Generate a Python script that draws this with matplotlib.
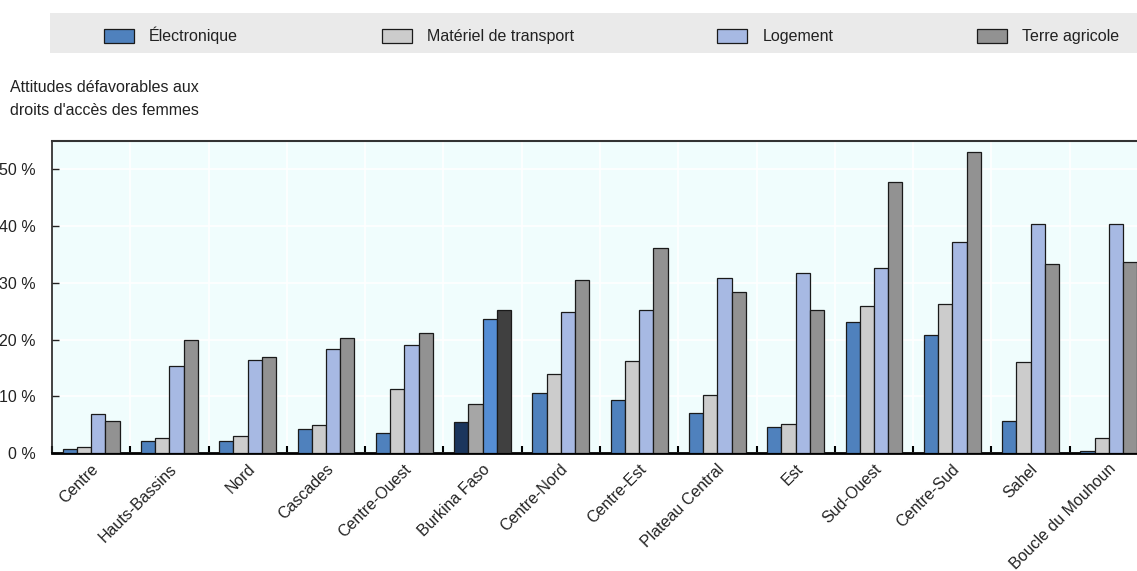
import matplotlib
matplotlib.use("Agg")
import matplotlib.pyplot as plt
import matplotlib.transforms as mtransforms
from matplotlib.patches import Rectangle
import numpy as np

plt.rcParams['font.family'] = ['Liberation Sans', 'DejaVu Sans']

regions = ["Centre", "Hauts-Bassins", "Nord", "Cascades", "Centre-Ouest",
           "Burkina Faso", "Centre-Nord", "Centre-Est", "Plateau Central",
           "Est", "Sud-Ouest", "Centre-Sud", "Sahel", "Boucle du Mouhoun"]

series_names = ["Électronique", "Matériel de transport", "Logement", "Terre agricole"]

electronique = [0.65, 2.2, 2.05, 4.2, 3.6, 5.5, 10.5, 9.4, 7.0, 4.6, 23.1, 20.8, 5.6, 0.3]
transport    = [1.1, 2.6, 3.0, 4.9, 11.3, 8.6, 13.9, 16.2, 10.2, 5.2, 25.9, 26.2, 16.1, 2.7]
logement     = [6.9, 15.3, 16.4, 18.4, 19.1, 23.7, 24.9, 25.2, 30.8, 31.7, 32.6, 37.2, 40.3, 40.4]
terre        = [5.6, 20.0, 17.0, 20.2, 21.2, 25.2, 30.5, 36.2, 28.3, 25.2, 47.7, 53.1, 33.4, 33.7]

yticks = [0, 10, 20, 30, 40, 50]
ytick_labels = ["0 %", "10 %", "20 %", "30 %", "40 %", "50 %"]

colors = ["#4F81BD", "#CCCCCC", "#A7B9E3", "#929292"]
highlight_colors = ["#1B365D", "#A6A6A6", "#558ED5", "#404040"]
highlight = "Burkina Faso"

W, H = 1137, 571
fig = plt.figure(figsize=(W / 100, H / 100), dpi=100)
fig.patch.set_facecolor("white")

ax = fig.add_axes([52 / W, 1 - 453 / H, 1096 / W, 312 / H])
ax.set_facecolor("#F0FDFD")

x = np.arange(len(regions))
bw = 0.182
values = [electronique, transport, logement, terre]
hi = regions.index(highlight)
for k, (name, vals) in enumerate(zip(series_names, values)):
    cols = [highlight_colors[k] if i == hi else colors[k] for i in range(len(regions))]
    ax.bar(x + (k - 1.5) * bw, vals, width=bw, color=cols, edgecolor="#1a1a1a",
           linewidth=0.9, label=name, zorder=3)

ax.set_xlim(-0.5, len(regions) - 0.5)
ax.set_ylim(0, 55)
ax.set_yticks(yticks)
ax.set_yticklabels(ytick_labels)
ax.set_xticks(x)
ax.set_xticks(np.arange(len(regions) + 1) - 0.5, minor=True)

ax.tick_params(axis="y", direction="in", length=5, width=1, color="#222222",
               labelsize=11.5, labelcolor="#222222", pad=12)
ax.tick_params(axis="x", which="major", length=0, labelsize=11.5, labelcolor="#222222", pad=6)
ax.tick_params(axis="x", which="minor", direction="in", length=5, width=1.5, color="black")

ax.set_xticklabels(regions, rotation=45, ha="right", va="top", rotation_mode="anchor")
offset = mtransforms.ScaledTranslation(-0.5 / 100, 0, fig.dpi_scale_trans)
for lbl in ax.get_xticklabels():
    lbl.set_transform(lbl.get_transform() + offset)

ax.grid(axis="y", which="major", color="white", linewidth=1.2, zorder=0)
ax.grid(axis="x", which="minor", color="white", linewidth=1.2, zorder=0)
ax.set_axisbelow(True)

ax.spines["top"].set_color("#333333")
ax.spines["top"].set_linewidth(1.5)
ax.spines["left"].set_color("#222222")
ax.spines["left"].set_linewidth(1.2)
ax.spines["bottom"].set_color("black")
ax.spines["bottom"].set_linewidth(2)
ax.spines["right"].set_visible(False)

# legend band
fig.patches.append(Rectangle((50 / W, 1 - 53 / H), (W - 50) / W, 40 / H,
                             transform=fig.transFigure, facecolor="#EAEAEA",
                             edgecolor="none", zorder=0))
handles, labels = ax.get_legend_handles_labels()
leg = fig.legend(handles, labels, loc="center left", bbox_to_anchor=(104 / W, 1 - 35.5 / H),
                 ncol=4, frameon=False, fontsize=11.5, handlelength=1.875,
                 handleheight=1.0, handletextpad=0.95, columnspacing=8.98,
                 borderpad=0, borderaxespad=0)
for t in leg.get_texts():
    t.set_color("#222222")
# legend swatches use the regular series colours
for h, c in zip(leg.legend_handles, colors):
    h.set_facecolor(c)
    h.set_edgecolor("#1a1a1a")

fig.text(10 / W, 1 - 99 / H, "Attitudes défavorables aux\ndroits d'accès des femmes",
         fontsize=11.5, color="#222222", ha="left", va="center", linespacing=1.6)

fig.savefig("out.png", dpi=100)
